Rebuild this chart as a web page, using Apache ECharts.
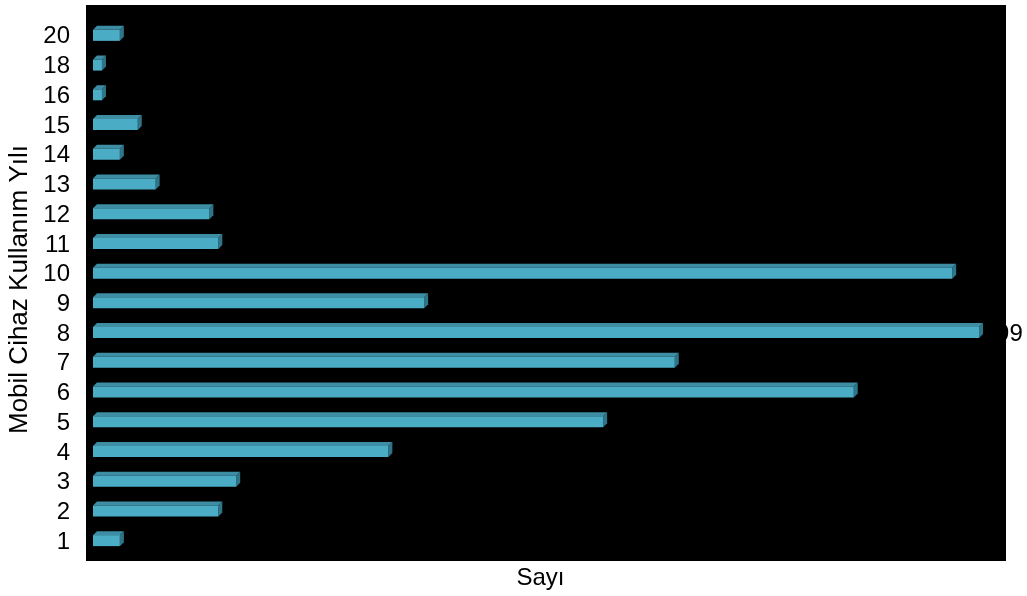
<!DOCTYPE html>
<html>
<head>
<meta charset="utf-8">
<script src="https://cdn.jsdelivr.net/npm/echarts@6/dist/echarts.min.js"></script>
<style>
html,body{margin:0;padding:0;background:#fff;}
#chart{width:1027px;height:596px;}
</style>
</head>
<body>
<div id="chart"></div>
<script>
const categories = ['1','2','3','4','5','6','7','8','9','10','11','12','13','14','15','16','18','20'];
const counts = [3,14,16,33,57,85,65,99,37,96,14,13,7,3,5,1,1,3];
const labeledCategories = ['8'];
const xAxisTitle = 'Sayı';
const yAxisTitle = 'Mobil Cihaz Kullanım Yılı';

const chart = echarts.init(document.getElementById('chart'));
const FONT = '"Liberation Sans", Arial, sans-serif';

const seriesData = counts.map((v, i) => [v, i]);

function renderItem(params, api) {
  const catIdx = api.value(1);
  const v = api.value(0);
  const p0 = api.coord([0, catIdx]);
  const p1 = api.coord([v, catIdx]);
  const c = p0[1];
  const x0 = p0[0], x1 = p1[0];
  const d = 4;
  const children = [
    { type: 'polygon', shape: { points: [[x0, c - 7], [x1, c - 7], [x1 + d, c - 11], [x0 + d, c - 11]] },
      style: { fill: '#3d8ea4' } },
    { type: 'polygon', shape: { points: [[x1, c - 7], [x1 + d, c - 11], [x1 + d, c], [x1, c + 4]] },
      style: { fill: '#2e7589' } },
    { type: 'rect', shape: { x: x0, y: c - 7, width: x1 - x0, height: 11 },
      style: { fill: '#4bacc6' } }
  ];
  if (labeledCategories.indexOf(categories[catIdx]) >= 0) {
    children.push({ type: 'text', style: { text: String(v), x: x1 + d + 13, y: c, fill: '#000',
      font: '24px ' + FONT, verticalAlign: 'middle', align: 'left' } });
  }
  return { type: 'group', children };
}

chart.setOption({
  animation: false,
  backgroundColor: '#fff',
  graphic: [{ type: 'rect', z: -10, shape: { x: 86, y: 5, width: 920, height: 556 }, style: { fill: '#000' } }],
  grid: { left: 93, right: 39, top: 22, bottom: 39, containLabel: false, outerBoundsMode: 'none' },
  xAxis: {
    type: 'value', min: 0, max: 100,
    name: xAxisTitle, nameLocation: 'middle', nameGap: 9,
    nameTextStyle: { fontSize: 24, color: '#000', fontFamily: FONT },
    axisLine: { show: false }, axisTick: { show: false }, axisLabel: { show: false }, splitLine: { show: false }
  },
  yAxis: {
    type: 'category', data: categories,
    name: yAxisTitle, nameLocation: 'middle', nameGap: 58, nameRotate: 90,
    nameTextStyle: { fontSize: 26, color: '#000', fontFamily: FONT },
    axisLine: { show: false }, axisTick: { show: false },
    axisLabel: { fontSize: 24, color: '#000', fontFamily: FONT, margin: 23, interval: 0, hideOverlap: false }
  },
  series: [{ type: 'custom', renderItem, data: seriesData, encode: { x: 0, y: 1 }, clip: false, z: 5 }]
});
</script>
</body>
</html>
